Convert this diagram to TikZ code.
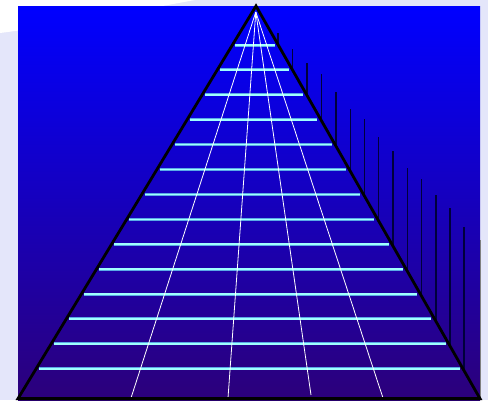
\documentclass[tikz,border=0pt]{standalone}
\definecolor{lav}{RGB}{228,230,250}
\definecolor{topblue}{RGB}{0,0,255}
\definecolor{botblue}{RGB}{44,0,122}
\definecolor{cyanedge}{RGB}{90,170,230}
\definecolor{cyanmid}{RGB}{160,255,255}
\definecolor{shadow}{RGB}{0,0,60}
\tikzset{
  rung/.style={line width=3pt, cyanedge},
  rungmid/.style={line width=1.6pt, cyanmid},
  fan/.style={line width=0.8pt, white},
  post/.style={line width=1.1pt, shadow},
  outline/.style={line width=2.8pt, black, line join=miter}
}
\begin{document}
\begin{tikzpicture}[x=1pt,y=-1pt]
\useasboundingbox (0,0) rectangle (488,400);
\fill[lav] (0,0) rectangle (488,400);
\fill[white] (0,0) -- (0,33) .. controls (70,24) and (140,10) .. (195,0) -- cycle;
\shade[top color=topblue, bottom color=botblue] (18,6) rectangle (480,400);
\draw[gray, line width=1pt] (480.5,240) -- (480.5,400);
% vertical posts on the right
\foreach \x/\t in {278/33, 292.5/49, 307/63, 321.5/74, 336/92, 350.5/109, 364.5/119, 378.5/137, 393/151, 407.5/168, 421.5/179, 436/195, 450/208, 464/227}{
  \pgfmathsetmacro{\yb}{6+(\x-256)*1.75}
  \draw[post] (\x,\t) -- (\x,\yb);
}
% horizontal rungs
\foreach \i in {0,...,13}{
  \pgfmathsetmacro{\yy}{45+24.9*\i}
  \pgfmathsetmacro{\xl}{256-(\yy-6)/392*238+3}
  \pgfmathsetmacro{\xr}{256+(\yy-6)/392*224-3.5}
  \draw[rung] (\xl,\yy) -- (\xr,\yy);
  \draw[rungmid] (\xl,\yy) -- (\xr,\yy);
}
% fan lines
\coordinate (apex) at (255.8,12);
\coordinate (b1) at (131,398);
\coordinate (b2) at (228,398);
\coordinate (b3) at (311,395);
\coordinate (b4) at (383,398);
\foreach \b in {b1,b2,b3,b4}{\draw[fan] (apex) -- (\b);}
% triangle
\coordinate (T) at (256,6);
\coordinate (R) at (480,398.6);
\coordinate (L) at (18,398.6);
\draw[outline] (T) -- (R) -- (L) -- cycle;
\end{tikzpicture}
\end{document}
